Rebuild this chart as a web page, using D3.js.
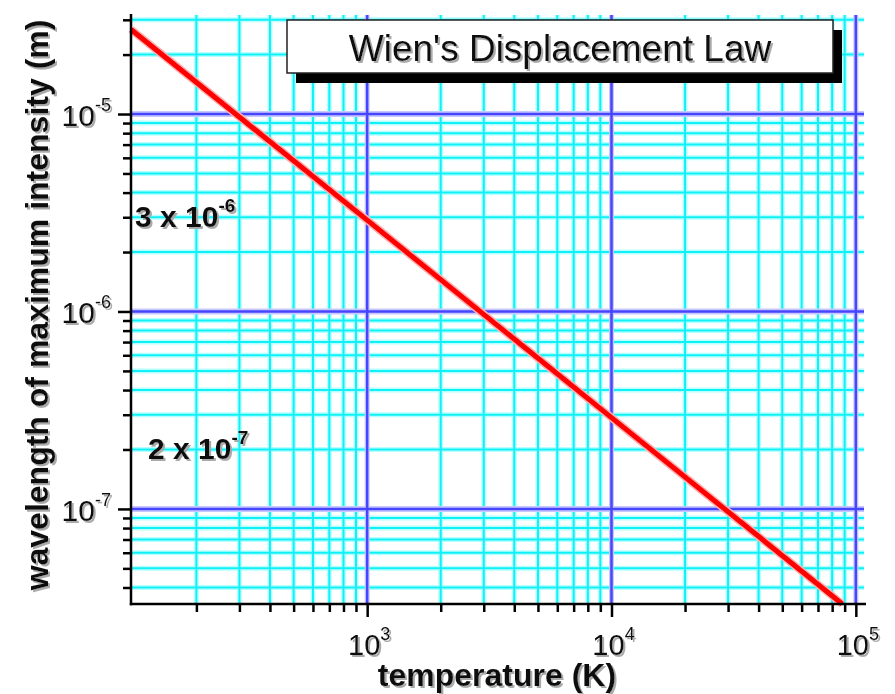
<!DOCTYPE html>
<html>
<head>
<meta charset="utf-8">
<script src="https://cdn.jsdelivr.net/npm/d3@7"></script>
<style>
  body { margin: 0; background: #fff; }
  svg { display: block; font-family: "Liberation Sans", Arial, Helvetica, sans-serif; }
  .axis path, .axis line { stroke: #000; stroke-width: 2.5; }
  .lbl { fill: #111; }
</style>
</head>
<body>
<svg id="chart" width="895" height="694"></svg>
<script>
// Data (wavelength of peak vs temperature)
const tempK = [108, 1000, 10000, 88000];
const lambdaM = [2.68e-5, 2.9e-6, 2.9e-7, 3.3e-8];

// Ticks / grid
const xMajor = [1e3, 1e4, 1e5];
const xMinor = [200, 300, 400, 500, 600, 700, 800, 900,
  2000, 3000, 4000, 5000, 6000, 7000, 8000, 9000,
  20000, 30000, 40000, 50000, 60000, 70000, 80000, 90000];
const yMajor = [1e-7, 1e-6, 1e-5];
const yMinor = [4e-8, 5e-8, 6e-8, 7e-8, 8e-8, 9e-8,
  2e-7, 3e-7, 4e-7, 5e-7, 6e-7, 7e-7, 8e-7, 9e-7,
  2e-6, 3e-6, 4e-6, 5e-6, 6e-6, 7e-6, 8e-6, 9e-6,
  2e-5, 3e-5];
const xExponents = ["3", "4", "5"];
const yExponents = ["-7", "-6", "-5"];

// Annotations
const noteTexts = ["3 x 10", "2 x 10"];
const noteExps = ["-6", "-7"];
const noteValues = [3e-6, 2e-7];

const titleText = "Wien's Displacement Law";
const xTitle = "temperature (K)";
const yTitle = "wavelength of maximum intensity (m)";

const svg = d3.select("#chart");
const plotLeft = 131, plotRight = 864, plotTop = 17, plotBottom = 604;

const x = d3.scaleLog().domain([108, 1.08e5]).range([plotLeft, plotRight]);
const y = d3.scaleLog().domain([3.3e-8, 3.1e-5]).range([plotBottom, plotTop]);

// light grey drop shadow used by all texts
svg.append("defs").append("filter").attr("id", "shadow")
  .attr("x", "-10%").attr("y", "-30%").attr("width", "130%").attr("height", "170%")
  .append("feDropShadow")
  .attr("dx", 2).attr("dy", 2).attr("stdDeviation", 0.6)
  .attr("flood-color", "#aaa").attr("flood-opacity", 1);

// Grid lines: soft halo first, then the line itself
const grid = svg.append("g");
function hLines(vals, col, w) {
  grid.append("g").selectAll("line").data(vals).join("line")
    .attr("x1", plotLeft).attr("x2", plotRight)
    .attr("y1", d => y(d)).attr("y2", d => y(d))
    .attr("stroke", col).attr("stroke-width", w);
}
function vLines(vals, col, w) {
  grid.append("g").selectAll("line").data(vals).join("line")
    .attr("y1", 15).attr("y2", plotBottom)
    .attr("x1", d => x(d)).attr("x2", d => x(d))
    .attr("stroke", col).attr("stroke-width", w);
}
hLines(yMinor, "#b8ffff", 5);
vLines(xMinor, "#b8ffff", 5);
hLines(yMinor, "#10f0f8", 2);
vLines(xMinor, "#10f0f8", 2);
hLines(yMajor, "#c8c8ff", 6);
vLines(xMajor, "#c8c8ff", 5);
hLines(yMajor, "#4646ff", 2.5);
vLines(xMajor, "#4646ff", 2.5);

// Title box with drop shadow
svg.append("rect").attr("x", 296).attr("y", 30).attr("width", 546).attr("height", 53)
  .attr("fill", "#000");
svg.append("rect").attr("x", 287).attr("y", 20).attr("width", 546).attr("height", 53)
  .attr("fill", "#fff").attr("stroke", "#222").attr("stroke-width", 1.5);

const labels = svg.append("g").attr("filter", "url(#shadow)");

labels.append("text").attr("class", "lbl")
  .attr("x", 560).attr("y", 61).attr("text-anchor", "middle").attr("font-size", 37)
  .text(titleText);

// Wien line
const line = d3.line().x(d => x(d)).y((d, i) => y(lambdaM[i]));
svg.append("path").datum(tempK)
  .attr("d", line).attr("fill", "none")
  .attr("stroke", "#ffb0b0").attr("stroke-width", 8);
svg.append("path").datum(tempK)
  .attr("d", line).attr("fill", "none")
  .attr("stroke", "#f00").attr("stroke-width", 5);

// Axes (tick marks only, labels are drawn with superscripts)
svg.append("g").attr("class", "axis")
  .attr("transform", `translate(${plotLeft},0)`)
  .call(d3.axisLeft(y).tickValues(yMajor).tickSize(13).tickSizeOuter(0).tickFormat(""))
  .select(".domain").remove();
svg.append("g").attr("class", "axis")
  .attr("transform", `translate(${plotLeft},0)`)
  .call(d3.axisLeft(y).tickValues(yMinor).tickSize(8).tickSizeOuter(0).tickFormat(""))
  .select(".domain").remove();
svg.append("g").attr("class", "axis")
  .attr("transform", `translate(0,${plotBottom})`)
  .call(d3.axisBottom(x).tickValues(xMajor).tickSize(13).tickSizeOuter(0).tickFormat(""))
  .select(".domain").remove();
svg.append("g").attr("class", "axis")
  .attr("transform", `translate(0,${plotBottom})`)
  .call(d3.axisBottom(x).tickValues(xMinor).tickSize(8).tickSizeOuter(0).tickFormat(""))
  .select(".domain").remove();
// axis lines
svg.append("line").attr("x1", plotLeft).attr("x2", plotLeft).attr("y1", 14).attr("y2", plotBottom + 1.2)
  .attr("stroke", "#000").attr("stroke-width", 2.5);
svg.append("line").attr("x1", plotLeft - 1.2).attr("x2", 866).attr("y1", plotBottom).attr("y2", plotBottom)
  .attr("stroke", "#000").attr("stroke-width", 2.5);

const texts = svg.append("g").attr("filter", "url(#shadow)");

// Tick labels
yMajor.forEach((v, i) => {
  const t = texts.append("text").attr("class", "lbl")
    .attr("x", 111).attr("y", y(v) + 12).attr("text-anchor", "end").attr("font-size", 30);
  t.append("tspan").text("10");
  t.append("tspan").attr("font-size", 18).attr("dy", -15).text(yExponents[i]);
});
xMajor.forEach((v, i) => {
  const t = texts.append("text").attr("class", "lbl")
    .attr("x", x(v) + 2).attr("y", 655).attr("text-anchor", "middle").attr("font-size", 29);
  t.append("tspan").text("10");
  t.append("tspan").attr("font-size", 18).attr("dy", -15).text(xExponents[i]);
});

// Annotations
const noteX = [135, 148];
noteValues.forEach((v, i) => {
  const t = texts.append("text").attr("class", "lbl")
    .attr("x", noteX[i]).attr("y", y(v) + 10)
    .attr("font-size", 30).attr("font-weight", "bold");
  t.append("tspan").text(noteTexts[i]);
  t.append("tspan").attr("font-size", 19).attr("dy", -15).text(noteExps[i]);
});

// Axis titles
texts.append("text").attr("class", "lbl")
  .attr("x", 497).attr("y", 686).attr("text-anchor", "middle")
  .attr("font-size", 32).attr("font-weight", "bold")
  .text(xTitle);
texts.append("g").attr("transform", "translate(48,305)")
  .append("text").attr("class", "lbl")
  .attr("transform", "rotate(-90)").attr("text-anchor", "middle")
  .attr("font-size", 32).attr("font-weight", "bold")
  .text(yTitle);
</script>
</body>
</html>
